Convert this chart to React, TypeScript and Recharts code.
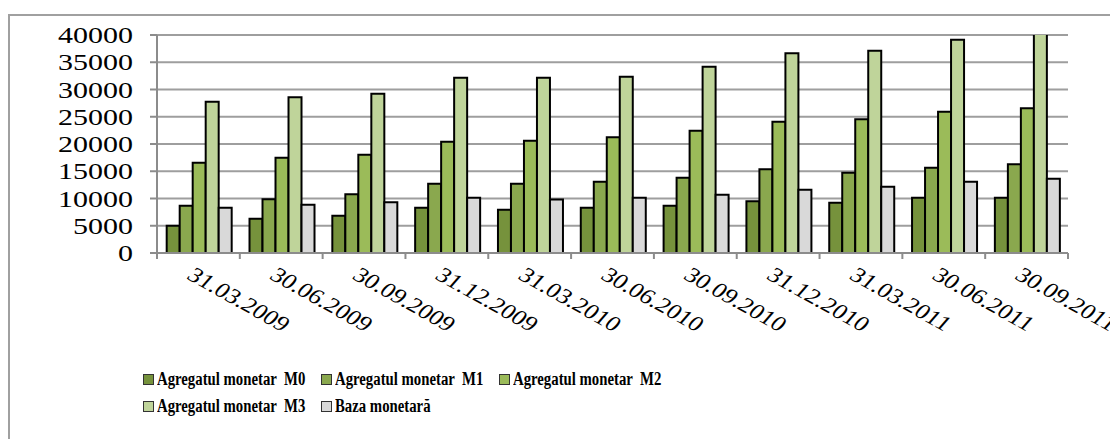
import React from 'react';
import { BarChart, Bar, XAxis, YAxis, CartesianGrid, Legend } from 'recharts';

const dates = [
  '31.03.2009',
  '30.06.2009',
  '30.09.2009',
  '31.12.2009',
  '31.03.2010',
  '30.06.2010',
  '30.09.2010',
  '31.12.2010',
  '31.03.2011',
  '30.06.2011',
  '30.09.2011',
];
const m0 = [5000, 6300, 6850, 8310, 7950, 8310, 8680, 9480, 9240, 10150, 10150];
const m1 = [8680, 9850, 10770, 12720, 12720, 13090, 13820, 15350, 14740, 15660, 16270];
const m2 = [16570, 17490, 18040, 20430, 20610, 21230, 22450, 24100, 24530, 25930, 26550];
const m3 = [27770, 28570, 29240, 32170, 32170, 32360, 34190, 36640, 37130, 39150, 41000];
const baza = [8310, 8870, 9300, 10150, 9800, 10150, 10700, 11620, 12170, 13090, 13640];
const yTicks = [0, 5000, 10000, 15000, 20000, 25000, 30000, 35000, 40000];

const series = [
  { key: 'm0', name: 'Agregatul monetar  M0', color: '#76923c', values: m0 },
  { key: 'm1', name: 'Agregatul monetar  M1', color: '#8aa84e', values: m1 },
  { key: 'm2', name: 'Agregatul monetar  M2', color: '#9bbb59', values: m2 },
  { key: 'm3', name: 'Agregatul monetar  M3', color: '#bfd49a', values: m3 },
  { key: 'baza', name: 'Baza monetară', color: '#d9d9d9', values: baza },
];

const data = dates.map((date, i) => {
  const row: Record<string, string | number> = { date };
  series.forEach((s) => {
    row[s.key] = s.values[i];
  });
  return row;
});

const FONT = "'Liberation Serif', 'Times New Roman', Tinos, 'DejaVu Serif', serif";
const AXIS = '#8c8c8c';
const HALF_BAND = 911 / dates.length / 2;

function YTick(props: any) {
  const { x, y, payload } = props;
  return (
    <text
      transform={`translate(${x},${y}) scale(1.25,1)`}
      textAnchor="end"
      dy="0.34em"
      style={{ fontFamily: FONT, fontSize: 24, fill: '#000' }}
    >
      {payload.value}
    </text>
  );
}

function XTick(props: any) {
  const { x, y, payload, index } = props;
  return (
    <g>
      <line x1={x - HALF_BAND} x2={x - HALF_BAND} y1={y} y2={y + 6} stroke={AXIS} strokeWidth={2} />
      {index === dates.length - 1 && (
        <line x1={x + HALF_BAND} x2={x + HALF_BAND} y1={y} y2={y + 6} stroke={AXIS} strokeWidth={2} />
      )}
      <text
        transform={`translate(${x - 13},${y + 25}) scale(1.25,1) rotate(35)`}
        style={{ fontFamily: FONT, fontSize: 21, fill: '#000' }}
      >
        {payload.value}
      </text>
    </g>
  );
}

function LegendBox(props: any) {
  const items = props.payload || [];
  return (
    <div style={{ display: 'flex', flexWrap: 'wrap', width: 540 }}>
      {items.map((it: any) => (
        <div
          key={it.value}
          style={{ width: 178, height: 27, display: 'flex', alignItems: 'center', whiteSpace: 'nowrap' }}
        >
          <span
            style={{
              width: 9,
              height: 9,
              background: it.color,
              border: '1px solid #333',
              marginRight: 3,
              display: 'inline-block',
              flexShrink: 0,
            }}
          />
          <span
            style={{
              fontFamily: FONT,
              fontWeight: 'bold',
              fontSize: 18,
              color: '#000',
              whiteSpace: 'pre',
              display: 'inline-block',
              transform: 'scaleX(0.82)',
              transformOrigin: 'left center',
            }}
          >
            {it.value}
          </span>
        </div>
      ))}
    </div>
  );
}

export default function App() {
  return (
    <div style={{ position: 'relative', width: 1110, height: 439, overflow: 'hidden', background: '#fff' }}>
      <style>{'body{margin:0;overflow:hidden}'}</style>
      <div
        style={{
          position: 'absolute',
          left: 8,
          top: 14,
          right: 0,
          bottom: 0,
          borderLeft: '2px solid #a0a0a0',
          borderTop: '2px solid #a0a0a0',
        }}
      />
      <div style={{ position: 'absolute', left: 10, top: 16 }}>
        <BarChart
          width={1100}
          height={423}
          data={data}
          margin={{ top: 19, right: 42, bottom: 0, left: 0 }}
          barCategoryGap="11.7%"
          barGap={0}
        >
          <CartesianGrid vertical={false} stroke="#9e9e9e" strokeWidth={2} />
          <XAxis
            dataKey="date"
            height={186}
            tickSize={0}
            tickMargin={0}
            tickLine={false}
            axisLine={{ stroke: AXIS, strokeWidth: 2 }}
            interval={0}
            tick={<XTick />}
          />
          <YAxis
            width={147}
            domain={[0, 40000]}
            ticks={yTicks}
            allowDataOverflow
            tickSize={7}
            tickMargin={17}
            tickLine={{ stroke: AXIS, strokeWidth: 2 }}
            axisLine={{ stroke: AXIS, strokeWidth: 2 }}
            tick={<YTick />}
          />
          <Legend
            layout="horizontal"
            verticalAlign="middle"
            align="center"
            wrapperStyle={{ top: 350, left: 133, width: 560 }}
            content={<LegendBox />}
          />
          {series.map((s) => (
            <Bar
              key={s.key}
              dataKey={s.key}
              name={s.name}
              fill={s.color}
              stroke="#000"
              strokeWidth={2}
              isAnimationActive={false}
            />
          ))}
        </BarChart>
      </div>
    </div>
  );
}
